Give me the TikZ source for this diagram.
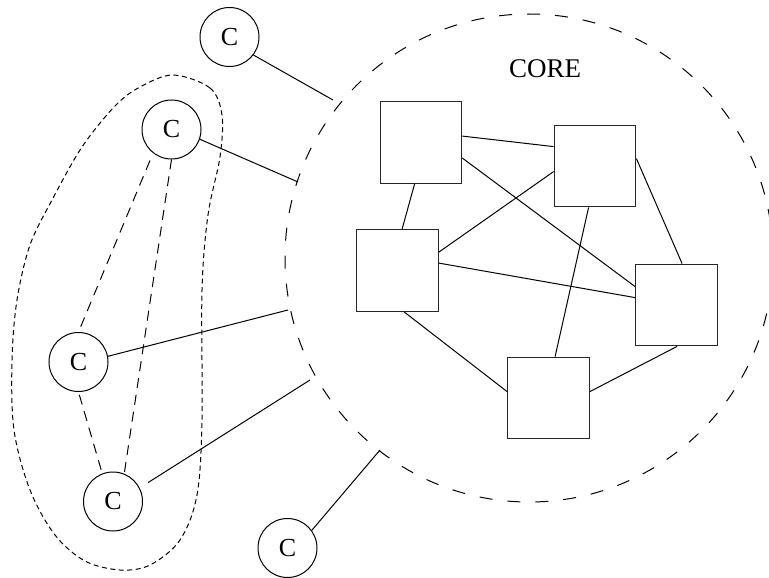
\documentclass[tikz,border=0pt]{standalone}
\usepackage{fontspec}
\setmainfont{Liberation Serif}
\usetikzlibrary{calc}
\begin{document}
\begin{tikzpicture}[x=1pt,y=-1pt,
  client/.style={draw, circle, minimum size=59pt, inner sep=0pt, line width=1pt,
                 font=\fontsize{26}{30}\selectfont},
  router/.style={draw=black!85, rectangle, minimum size=81.5pt, inner sep=0pt, line width=1.3pt},
  link/.style={line width=1pt},
  peer/.style={line width=1pt, dash pattern=on 10pt off 7pt},
  coreline/.style={line width=1pt, dash pattern=on 13pt off 15pt},
  group/.style={line width=1pt, dash pattern=on 5pt off 3.5pt}]
\useasboundingbox (0,0) rectangle (769,578);

% core boundary and its label
\draw[coreline] (529,258) circle[radius=244];
\node[font=\fontsize{27}{30}\selectfont] (corelabel) at (545,68.5) {CORE};

% core routers
\node[router] (S1) at (421,142.5) {};
\node[router] (S2) at (595,166) {};
\node[router] (S3) at (397.5,270.5) {};
\node[router] (S4) at (676.5,305) {};
\node[router] (S5) at (548.5,398) {};

% mesh between routers
\draw[link] ($(S1.north east)+(0,35)$) -- ($(S2.north west)+(0,22)$);
\draw[link] ($(S1.north east)+(0,57)$) -- ($(S4.north west)+(0,23)$);
\draw[link] ($(S1.south west)+(35,0)$) -- ($(S3.north west)+(46,0)$);
\draw[link] ($(S2.north west)+(0,47)$) -- ($(S3.north east)+(0,23)$);
\draw[link] ($(S2.north east)+(0,34)$) -- ($(S4.north west)+(47,0)$);
\draw[link] ($(S2.south west)+(35,0)$) -- ($(S5.north west)+(48,0)$);
\draw[link] ($(S3.north east)+(0,34)$) -- ($(S4.north west)+(0,34)$);
\draw[link] ($(S3.south west)+(48,0)$) -- ($(S5.north west)+(0,35)$);
\draw[link] ($(S4.south west)+(42,0)$) -- ($(S5.north east)+(0,35)$);

% clients
\node[client] (C1) at (229.5,37) {C};
\node[client] (C2) at (171.5,129.5) {C};
\node[client] (C3) at (78.5,362) {C};
\node[client] (C4) at (113,501.5) {C};
\node[client] (C5) at (287.5,548) {C};

% attachment points on the core boundary
\coordinate (P1) at (333,100);
\coordinate (P2) at (298,182);
\coordinate (P3) at (288,310);
\coordinate (P4) at (310,380);
\coordinate (P5) at (380,450);

\draw[link] (C1.-37) -- (P1);
\draw[link] (C2.-19) -- (P2);
\draw[link] (C3.11) -- (P3);
\draw[link, shorten <=10pt] (C4.27) -- (P4);
\draw[link] (C5.36) -- (P5);

% peering among the grouped clients
\draw[peer, shorten <=8pt] (C2.232) -- (C3.north);
\draw[peer] (C2.south) -- (C4.68);
\draw[peer, shorten <=3pt] (C3.south) -- (C4.111);

% client group outline
\draw[group] plot[smooth cycle, tension=0.55] coordinates {
  (173,75) (210,88) (222,115) (220,157) (208,215) (202,290) (202,420)
  (197,495) (180,540) (150,565) (120,570) (85,561) (55,535) (30,490)
  (14,430) (12,360) (17,300) (30,245) (52,200) (82,147) (115,106) (140,87)};
\end{tikzpicture}
\end{document}
